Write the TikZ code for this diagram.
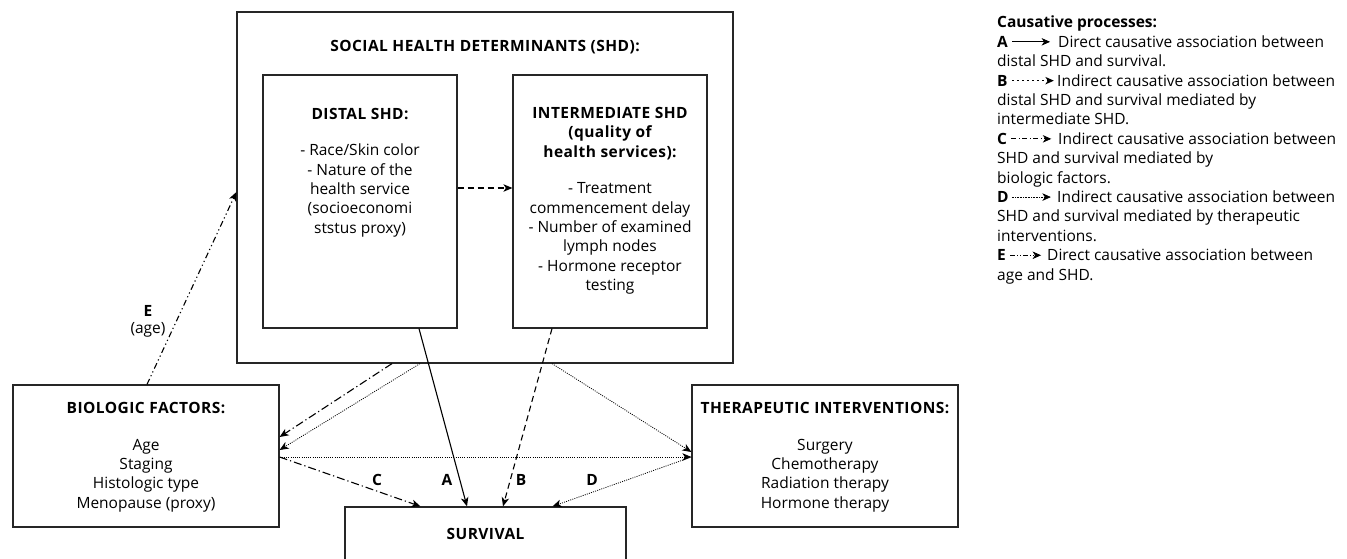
\documentclass[tikz,border=0pt]{standalone}
\usepackage{fontspec}
\setmainfont{Open Sans}
\usetikzlibrary{arrows.meta}
\usetikzlibrary{positioning}

\tikzset{
  box/.style={draw=black!85, line width=1.2pt, inner sep=0pt},
  txt/.style={font=\fontsize{15.5}{19.4}\selectfont, align=center, inner sep=0pt},
  ttl/.style={txt, font=\fontsize{15.5}{19.4}\selectfont\bfseries\addfontfeatures{LetterSpace=3}},
  leg/.style={font=\fontsize{15.5}{19.4}\selectfont, anchor=base west, inner sep=0pt},
  legkey/.style={leg, font=\fontsize{15.5}{19.4}\selectfont\bfseries},
  tip/.style={-{Stealth[length=9pt,width=7.5pt,inset=2.5pt]}},
  ltip/.style={-{Stealth[length=8.5pt,width=7.5pt,inset=2.5pt]}},
  lnA/.style={line width=1.1pt},
  lnB/.style={line width=1.1pt, dash pattern=on 6pt off 4pt},
  lnC/.style={line width=1.1pt, dash pattern=on 8pt off 3pt on 1.2pt off 3pt},
  lnD/.style={line width=0.8pt, dash pattern=on 1pt off 1.2pt},
  lnE/.style={line width=1.1pt, dash pattern=on 6pt off 3pt on 1.2pt off 3pt on 1.2pt off 3pt},
}

\begin{document}
\begin{tikzpicture}[x=1pt,y=-1pt]
\useasboundingbox (0,0) rectangle (1347,559);
\clip (0,0) rectangle (1347,559);

%Shape: Boxes
\node[box, minimum width=496pt, minimum height=351pt] (shd) at (485,187.5) {};
\node[box, minimum width=194pt, minimum height=253pt] (distal) at (360,201.5) {};
\node[box, minimum width=194pt, minimum height=253pt] (inter) at (610,201.5) {};
\node[box, minimum width=266pt, minimum height=142pt] (bio) at (146,456) {};
\node[box, minimum width=266pt, minimum height=142pt] (thera) at (825,456) {};
\node[box, minimum width=281pt, minimum height=54pt] (surv) at (485.5,534) {};

% Text Node
\node[ttl] (shdtitle) at (485,47) {SOCIAL HEALTH DETERMINANTS (SHD):};
\node[ttl] (distaltitle) at (360,114) {DISTAL SHD:};
\node[txt] (distalbody) at (360,190.5) {- Race/Skin color\\- Nature of the\\health service\\(socioeconomi\\ststus proxy)};
\node[ttl] (intertitle) at (610,133.5) {INTERMEDIATE SHD\\(quality of\\health services):};
\node[txt] (interbody) at (610,238.5) {- Treatment\\commencement delay\\- Number of examined\\lymph nodes\\- Hormone receptor\\testing};
\node[ttl] (biotitle) at (146,408) {BIOLOGIC FACTORS:};
\node[txt] (biobody) at (146,475.5) {Age\\Staging\\Histologic type\\Menopause (proxy)};
\node[ttl] (theratitle) at (825,408) {THERAPEUTIC INTERVENTIONS:};
\node[txt] (therabody) at (825,475.5) {Surgery\\Chemotherapy\\Radiation therapy\\Hormone therapy};
\node[ttl] (survtitle) at (485.5,534) {SURVIVAL};

%Connectors
\draw[lnB, tip] ([yshift=13.5pt]distal.east) -- ([yshift=13.5pt]inter.west);
\draw[lnA, tip] ([xshift=59pt]distal.south) -- ([xshift=-18.5pt]surv.north);
\draw[lnB, tip] ([xshift=-58pt]inter.south) -- ([xshift=17.5pt]surv.north);
\draw[lnC, tip] ([xshift=-93pt]shd.south) -- ([yshift=19pt]bio.east);
\draw[lnC, tip] ([yshift=-1pt]bio.east) -- ([xshift=-65pt]surv.north);
\draw[lnD, tip] ([xshift=-65pt]shd.south) -- ([yshift=6pt]bio.east);
\draw[lnD, tip] ([xshift=67pt]shd.south) -- ([yshift=4pt]thera.west);
\draw[lnD, tip] ([yshift=-1pt]bio.east) -- ([yshift=-1pt]thera.west);
\draw[lnD, tip] ([yshift=-1pt]thera.west) -- ([xshift=67pt]surv.north);
\draw[lnE, tip] ([xshift=1pt]bio.north) -- ([yshift=-4.5pt]shd.west);

% Arrow labels
\node[ttl] (labC) at (377,480) {C};
\node[ttl] (labA) at (447,480) {A};
\node[ttl] (labB) at (521,480) {B};
\node[ttl] (labD) at (592,480) {D};
\node[ttl] (labE) at (148,311) {E};
\node[txt] (labage) at (148,330) {(age)};

% Legend
\node[legkey] (legtitle) at (997,28) {Causative processes:};
\node[legkey] (keyA) at (997,47.4) {A};
\draw[lnA, line width=0.9pt, ltip] ([xshift=4pt]keyA.east) -- ++(38pt,0);
\node[leg] (txtA) at (1058,47.4) {Direct causative association between};
\node[leg] (txtA2) at (997,66.8) {distal SHD and survival.};
\node[legkey] (keyB) at (997,86.2) {B};
\draw[lnB, line width=0.9pt, dash pattern=on 2.5pt off 2.5pt, ltip] ([xshift=4pt]keyB.east) -- ++(42pt,0);
\node[leg] (txtB) at (1057,86.2) {Indirect causative association between};
\node[leg] (txtB2) at (997,105.6) {distal SHD and survival mediated by};
\node[leg] (txtB3) at (997,125) {intermediate SHD.};
\node[legkey] (keyC) at (997,144.4) {C};
\draw[lnC, line width=0.9pt, dash pattern=on 5pt off 2.5pt on 1pt off 2.5pt, ltip] ([xshift=4pt]keyC.east) -- ++(40pt,0);
\node[leg] (txtC) at (1058,144.4) {Indirect causative association between};
\node[leg] (txtC2) at (997,163.8) {SHD and survival mediated by};
\node[leg] (txtC3) at (997,183.2) {biologic factors.};
\node[legkey] (keyD) at (997,202.6) {D};
\draw[lnD, line width=0.6pt, dash pattern=on 0.8pt off 0.8pt, ltip] ([xshift=3pt]keyD.east) -- ++(39pt,0);
\node[leg] (txtD) at (1057,202.6) {Indirect causative association between};
\node[leg] (txtD2) at (997,222) {SHD and survival mediated by therapeutic};
\node[leg] (txtD3) at (997,241.4) {interventions.};
\node[legkey] (keyE) at (997,260.8) {E};
\draw[lnE, line width=0.9pt, dash pattern=on 5pt off 2pt on 1pt off 2pt on 1pt off 2pt, ltip] ([xshift=4pt]keyE.east) -- ++(31pt,0);
\node[leg] (txtE) at (1047,260.8) {Direct causative association between};
\node[leg] (txtE2) at (997,280.2) {age and SHD.};

\end{tikzpicture}
\end{document}
